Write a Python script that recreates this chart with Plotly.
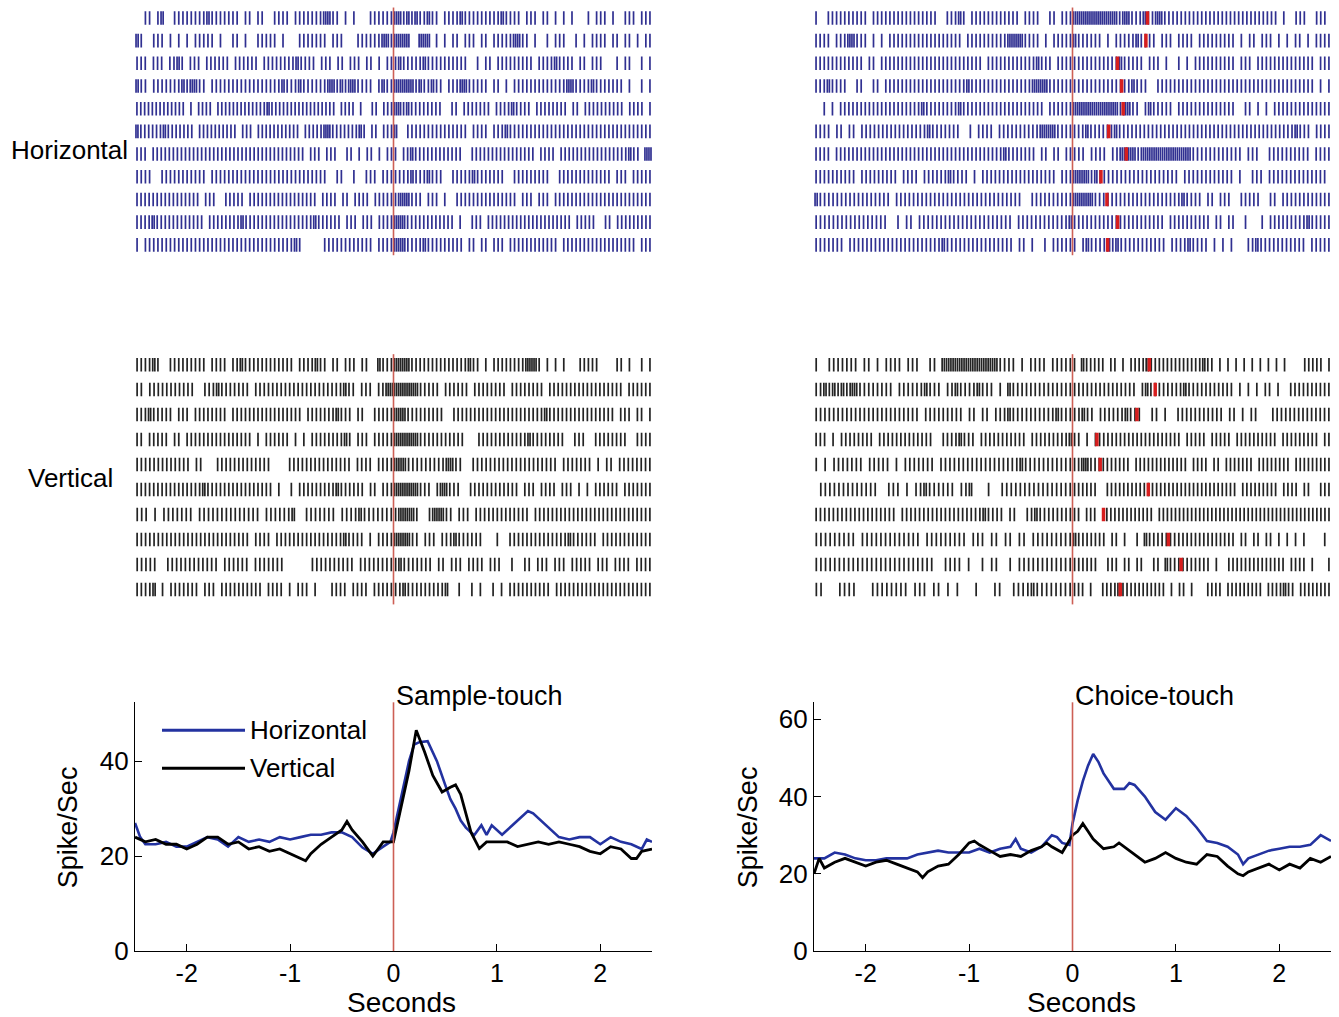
import plotly.graph_objects as go

W, H_REF = 1339, 1017      # reference picture size (layout is designed in these pixels)
H_FIG = 1031               # rendered figure height (fills the browser viewport)
FONT = "Liberation Sans, Arial, sans-serif"

# ---------------- data ----------------
# Raster rows: each char is a time bin (pre-event half ^ post-event half);
# '|' = one spike, ':' = two spikes, '.' = no spike
raster_H_sample = [
    "..||.|:..||||||||:|||||||.||.||..||||.|||||||::||.|.|...||||||^::|:|:||:||.||||:|||||||||:||||.|||.||.|.|.|...|.|||.|..|||.|||",
    ":|..|||.|.|.|.|||||.|..||.|..|||||.|...|||||||.|||...||||||::|^::::..:::.|.|.||.|||.||.|||||::||.|..|.|||..|.|.||||.||.||.|.||",
    "|||.|||.||:|.|||.||||||.||||||.||||||||:||||.|||.||.|||.||.|.||^|:|||||:||||||||||..|.||.|||||||||.||||:||||.||.|||...|.||..|.|",
    ":||.|||||||:|::||.|||||||||||||||||:|||:||||||::|:|::||||.|:||^:::::|:||:||.|||::|||||.||.|.|||||||||||||::||||:|||||||.|..|.|",
    "|||||||||||||.|.||||.|||||||||||||:|||||||||||||||||.||||.|..||.|||^::|:||||||||..||.|||||||.||||:||||.||||||||.||.||||||||||.||||.|",
    ":||||||:|||||||.||||||||||.|||.|||||||||||.|||||::|||||||:|.||.|||^:..|||||||||||||||.||||.|||:|||||||||||||||||||||||||||||||||||",
    "|||.||||||||||||||||||||||||||||||||||||||.|||.|||..||.|.||.|.||^|.||:||||||||||||..||||||||||||||||.||||.|||||||||||||||||:||.::",
    "||||..|||||||||||.||||||||||||||||||||||||||||..||..|..|||.|||^||||:|||:|||..|||||:|||||||..|||||||||..|||||||||||||.|||.|||||",
    "||||||||||||||||.|||..|||||.|||||||||||||||||.||||.||.||||.|||||^|:::|||.|||.|..|||||||||||||||.|||.|||.||||||||||||||||||||||||",
    "||||:||||||||||||.||||||||:|||||||||||||||||:||||||.|||.|||.||||^:::||||||||||||.|..|||.|||||||||||||||||||||.|||||..||.|||||||||",
    "|.||||||||||||||||||||||||||||||||||||:|.....||||||||||||.||||^:::||||:|||||||||.||.||.|||.||||||||||||.||||||||||||||||||.|||",
]
raster_H_choice = [
    "|..||||||||||.||||||||||||||||..|||:|.||||||||||||.||||..||.|||^:::::::::::|::|||:||::||||||||||||||||||||||||||||.|..|||..|||.",
    "||||.|||::|||.|.|.||||||||||||||||||.||||||||||::::||||.|.|||||^:||||||.|.|||||:||||.|||.||||.|||||||||.|.||.|||.|.|.||.|.||||",
    "||||||||||||.||.|||||||||||||||||||||||||.||||||||||||:|||.||||^|||||||||||:|||||.|||.|..|.|.||||||||||.|||.||||||||||||||.|||",
    "|||:||||..||..||.||||||||||||||||||||:|||||||||||||||::::||||||^||||||||||||||:|||..||||||||||||||||||||||||||||||||||||||.|.|",
    "..|.|.||||||||||||||||||||:||||||||:||||||||||||||||||||.||||||^:::::::::::|::||.|:|||||.||||||||||||||..||.|.|.||||||||||||||",
    "||||.||.||.||||||||||||||||:|||||||..|.||||.||||||||||::::||||^|||:||||||:|||||||||||||||||||||||||||||||||||||||||||:|||.||||",
    "||||.|||||||||||||||||||||||||||||||||||||||||:|||||||.||.||.||^|||.||||.||::::|::::::::::::||||||||||||.|||..||||||||||.||||",
    "||||||||||.|||||||||.||||.||||||:||||.|.||||||||||||||||||.|||^::::|:|||||||||||||||||||.||||||||||||.|..|||.||||||||||||||.",
    ":|||||||||||||||||.||||||||||||||||||||||||||||||..||||||||||^:::::|||||||||||||||||||||:||||.||.|||..|||||..||.||||||||||||",
    "|||||||||||||||||..|.||.||||||||||||||||||||||.||||||||||||:^||||||||||||||||||||||.||||||||||.||.||..|...|.|||||||||:|||||",
    "|||||||.||||||||||||||||||||||:||||||||||||||||.||.|..|.|||||^|.|:||||:|:|||||||||||.||||:||||.|.|.|...||:|||||||||||.|||||",
]
raster_V_sample = [
    "||||:|..|||||||||.||||.||:||||||||||||.||||:||.||.|||.||..:|||^::::||||||||||||||:||.|.||||||||:::|.|.|.|...|||||....||.|..|.|",
    "||.|||||||||||..|||:|||||||.|||||||||||||||||||||:||.|||.||::^::::::|||||.||||||.||||||||.||||||||.||||||||||||||||||.||||||",
    "|||:|||||.|||.||||||||.|||||||||||||||||.|||||||:|||.||..|||||^:::|||||||||..||||||||||||||||||||||:||||||||||||||||.|||.||.|",
    "||.|||||.||.||||||||||||||||.|.||||||.|.|.||||||||:|.|||.|||||^::::::|||||||||||...||||||||||||:||||||||..|||..||||||||..||||",
    "|||||||||||||.||...|||||||||||||....|||||||||||||||.||||.||||^:::|||||||||::||..||||||||||||||||||||.|||||||.|.||.||||||||",
    "||||||||||||||||:||||||||||||||||.|..|.|||||||||:||||||.||.|||^::::::|||.|::|||..||||||||||||.|||.||||.|||.|.|.||||||.|||||||",
    "|||.|.|||||||.||||||||||||||.||||||:..|||||||.||||:|||||||^|::::|..|:::||.|||.|||||||||||||.||||||||||||||||||||||||||||",
    "|||||||||||||||||||||||||||.||||.||||||||||||||||:||||.|.||||^::::||.|||.|||:||||||...|..||||||||||||||:||||||.||||||||||||",
    "|||||..||||||||||||.||||||.|||||||......||||||||||.||||||||^|:|||||||.||.|||.||||.|||..|..||.|||.|||.|||||.|||.||||.||||",
    "||||:.|.|||||||.|||.||||||||||.||||.|.|||.|...||||.||||.|||||^||:|||||||||:..|..|.|..|.|.||||||||||.|||||||||||||||||||||||",
]
raster_V_choice = [
    "|..|||||||.||.|.||||.|||..||.:::::::::::::||||.|.||||.|||||^|.:|||||.||.|.||||:|||||||||||||:||.|.|.|.|.|.|.|.|.|....|||||.|",
    "||:|:|:|::||||||||.||||||:|||.||:||||:|||.|.:||||||||||||||^|||||||||||||||.|:||||||||:|||||||||||.|.|.|.||.|..||||||||||",
    "||||||||||||||||||||||||.|||||||||.||.||.|||:||||||||||:|||^||:||.||||||:|||..||.|..|||||||||||.||.|.||...||||||||||||||",
    "|||.|.||||||||.|||||||||||||..||||:|||.|||||||||||.|||||||||:^||.|.|||||||||||||||||||||.|||||.|||||.||||||||||.|||||||||.||",
    "|.|.|||||||.|||||.|.|||||||.||||||||||||||||||:|||||||||||^||::||||||||||.|||||||||||||.||||.||.|||||||.||||||||.|||||||||",
    ".|||||||||||||..|||.|.||:||||||.||:...|..||||||||||||||||^||||||..||||||||||||||||||||||||||||||||.|||||||||.||||.||..|||",
    "|||||||||||||||||||.|||||||||||||||||||:||||.||..||:||||||||^||.|||..||||||||||||.|||||||||||||||||||||||||||||||||||||||||||",
    "|||||||||.|||||||||||||.|||||||||.|||.||.||.||.|||||||||^:|||||||.||.|..|.:|||||||||||||||||||||.||.||.||.|.|.|.|....|.",
    "||||||||||||||||||||||||||..||||.|..|.||..|.||||||||||||^||||||..|||.||.||..||.:||||||||||.|..||||||||||||||.||||.|...|",
    "||...||||...||||||||.|||.||.|.|...|...||..||||:||||||||^|||.|..||||:|||||||||||.|.||.|...||||.|||||||||.||||:||.||||||||",
]
# reward/feedback marks (seconds after choice-touch), one per trial row
red_H_choice = [0.725, 0.71, 0.435, 0.475, 0.49, 0.35, 0.52, 0.275, 0.333, 0.436, 0.34]
red_V_choice = [0.743, 0.80, 0.623, 0.236, 0.268, 0.733, 0.30, 0.927, 1.05, 0.462]

event_time = 0.0
t_start, t_end = -2.5, 2.5

# PSTH: sample-touch
tL_H = [-2.5,-2.45,-2.4,-2.3,-2.2,-2.1,-2.0,-1.9,-1.8,-1.7,-1.6,-1.5,-1.4,-1.3,-1.2,-1.1,-1.0,-0.9,-0.8,-0.7,-0.6,-0.5,-0.4,-0.3,-0.2,-0.1,-0.03,0.0,0.05,0.1,0.15,0.2,0.25,0.33,0.38,0.42,0.5,0.55,0.6,0.65,0.7,0.78,0.85,0.9,0.95,1.0,1.05,1.15,1.2,1.3,1.35,1.4,1.5,1.6,1.7,1.8,1.9,2.0,2.1,2.2,2.3,2.4,2.45,2.5]
vL_H = [27,24,22.5,22.5,23,22,22,23,24,23.5,22,24,23,23.5,23,24,23.5,24,24.5,24.5,25,25,24,21.8,20.5,22,23,25,30,35,40,43.5,44,44.2,42,40,35,32,30,27.5,26,24.4,26.5,24.5,26.5,25.5,24.5,26.5,27.5,29.5,29,28,26,24,23.5,24,24,22.5,24,23,22.5,21.5,23.5,23]
tL_V = [-2.5,-2.4,-2.3,-2.2,-2.1,-2.0,-1.9,-1.8,-1.7,-1.6,-1.5,-1.4,-1.3,-1.2,-1.1,-1.0,-0.9,-0.85,-0.8,-0.7,-0.6,-0.5,-0.45,-0.4,-0.3,-0.2,-0.15,-0.1,0.0,0.05,0.1,0.15,0.22,0.3,0.38,0.47,0.55,0.6,0.65,0.7,0.75,0.83,0.9,1.0,1.1,1.2,1.3,1.4,1.5,1.6,1.7,1.8,1.9,2.0,2.1,2.2,2.3,2.35,2.4,2.5]
vL_V = [24,23,23.5,22.5,22.5,21.5,22.5,24,24,22.5,23,21.5,22,21,21.5,20.5,19.5,19,20.5,22.5,24,25.5,27.3,25.5,23,20,21.5,23,23,28,33,38,46.5,42,37,33.5,34.5,35,33,29,25,21.6,23,23,23,22,22.5,23,22.5,23,22.5,22,21,20.5,22,21.5,19.5,19.5,21,21.5]
# PSTH: choice-touch
tR_H = [-2.5,-2.4,-2.3,-2.2,-2.1,-2.0,-1.9,-1.8,-1.7,-1.6,-1.5,-1.4,-1.3,-1.2,-1.1,-1.0,-0.9,-0.8,-0.7,-0.6,-0.55,-0.5,-0.4,-0.3,-0.2,-0.15,-0.1,-0.03,0.0,0.05,0.1,0.15,0.2,0.25,0.3,0.4,0.5,0.55,0.6,0.7,0.8,0.9,1.0,1.1,1.2,1.3,1.4,1.5,1.6,1.65,1.7,1.8,1.9,2.0,2.1,2.2,2.3,2.4,2.5]
vR_H = [24,24,25.5,25,24,23.5,23.5,24,24,24,25,25.5,26,25.5,25.5,25.5,26.5,25.5,26.5,27,29,26.5,25.5,27,30,29.5,28,27.5,33,39,44,48,51,49,46,42,42,43.5,43,40,36,34,37,35,32,28.5,28,27,25,22.5,24,25,26,26.5,27,27,27.5,30,28.5]
tR_V = [-2.5,-2.45,-2.4,-2.3,-2.2,-2.1,-2.0,-1.9,-1.8,-1.7,-1.6,-1.5,-1.45,-1.4,-1.3,-1.2,-1.1,-1.0,-0.95,-0.9,-0.8,-0.7,-0.6,-0.5,-0.4,-0.3,-0.25,-0.2,-0.1,0.0,0.05,0.1,0.15,0.2,0.3,0.4,0.45,0.5,0.6,0.7,0.8,0.9,1.0,1.1,1.2,1.3,1.4,1.5,1.6,1.65,1.7,1.8,1.9,2.0,2.1,2.2,2.3,2.4,2.5]
vR_V = [20,24,21.5,23,24,23,22,23,23.5,22.5,21.5,20.5,19,20.5,22,22.5,25,28,28.5,27.5,26,24.5,25,24.5,26,27,28,27,25.5,30,31,33,31,29,26.5,27,28,27,25,23,24,25.5,24,23,22.5,25,24.5,22,20,19.5,20.5,21.5,22.5,21,22.5,21.5,24,23,24.5]

series_names = ["Horizontal", "Vertical"]
row_labels = ["Horizontal", "Vertical"]
event_labels = ["Sample-touch", "Choice-touch"]

# ---------------- helpers ----------------
def PX(px):
    return px / W

def PY(py):
    return 1 - py / H_REF

def raster_xy(rows, half):
    xs, ys = [], []
    for r, row in enumerate(rows, start=1):
        pre, post = row.split("^")
        for part, t0, t1 in ((pre, t_start, event_time), (post, event_time, t_end)):
            n = len(part)
            bw = (t1 - t0) / n
            for i, c in enumerate(part):
                tc = t0 + bw * (i + 0.5)
                if c == "|":
                    ts = [tc]
                elif c == ":":
                    ts = [tc - bw * 0.25, tc + bw * 0.25]
                else:
                    ts = []
                for t in ts:
                    xs += [t, t, None]
                    ys += [r - half, r + half, None]
    return xs, ys

def mark_xy(times, half):
    xs, ys = [], []
    for r, t in enumerate(times, start=1):
        xs += [t, t, None]
        ys += [r - half, r + half, None]
    return xs, ys

BLUE_R = "rgb(48,48,145)"
BLACK_R = "rgb(35,35,35)"
RED = "rgb(215,30,30)"
EV = "rgb(205,95,85)"
BLUE_L = "rgb(35,50,160)"

fig = go.Figure()
panels = [
    (raster_H_sample, "x", "y", BLUE_R, None, 0.30),
    (raster_H_choice, "x2", "y2", BLUE_R, red_H_choice, 0.30),
    (raster_V_sample, "x3", "y3", BLACK_R, None, 0.27),
    (raster_V_choice, "x4", "y4", BLACK_R, red_V_choice, 0.27),
]
for rows, xa, ya, col, reds, half in panels:
    xs, ys = raster_xy(rows, half)
    fig.add_trace(go.Scatter(x=xs, y=ys, mode="lines", xaxis=xa, yaxis=ya,
                             line=dict(color=col, width=1.7), showlegend=False,
                             hoverinfo="skip"))
    if reds:
        rx, ry = mark_xy(reds, half)
        fig.add_trace(go.Scatter(x=rx, y=ry, mode="lines", xaxis=xa, yaxis=ya,
                                 line=dict(color=RED, width=3.5), showlegend=False,
                                 hoverinfo="skip"))

for t, v, xa, ya, col, w in [
    (tL_H, vL_H, "x5", "y5", BLUE_L, 2.6),
    (tL_V, vL_V, "x5", "y5", "black", 2.8),
    (tR_H, vR_H, "x6", "y6", BLUE_L, 2.6),
    (tR_V, vR_V, "x6", "y6", "black", 2.8),
]:
    fig.add_trace(go.Scatter(x=t, y=v, mode="lines", xaxis=xa, yaxis=ya,
                             line=dict(color=col, width=w), showlegend=False,
                             hoverinfo="skip"))

xL = [PX(135), PX(652)]
xR = [PX(814), PX(1331)]
hidden = dict(visible=False, showgrid=False, zeroline=False)
tickfont = dict(family=FONT, size=25, color="black")

def psth_x(anchor, dom):
    return dict(domain=dom, range=[t_start, t_end], anchor=anchor, showline=True,
                linecolor="black", linewidth=1.3, ticks="inside", ticklen=7,
                tickcolor="black", tickvals=[-2, -1, 0, 1, 2],
                ticktext=["-2", "-1", "0", "1", "2"], tickfont=tickfont,
                showgrid=False, zeroline=False, mirror=False)

def psth_y(anchor, rng, vals):
    return dict(domain=[PY(952), PY(703)], range=rng, anchor=anchor, showline=True,
                linecolor="black", linewidth=1.3, ticks="inside", ticklen=7,
                tickcolor="black", tickvals=vals,
                tickfont=dict(family=FONT, size=26, color="black"),
                showgrid=False, zeroline=False, mirror=False)

fig.update_layout(
    width=W, height=H_FIG, margin=dict(l=0, r=0, t=0, b=0),
    paper_bgcolor="white", plot_bgcolor="white", showlegend=False,
    font=dict(family=FONT, color="black"),
    xaxis=dict(domain=xL, range=[t_start, t_end], anchor="y", **hidden),
    yaxis=dict(domain=[PY(258), PY(5)], range=[11.57, 0.43], anchor="x", **hidden),
    xaxis2=dict(domain=xR, range=[t_start, t_end], anchor="y2", **hidden),
    yaxis2=dict(domain=[PY(258), PY(5)], range=[11.57, 0.43], anchor="x2", **hidden),
    xaxis3=dict(domain=xL, range=[t_start, t_end], anchor="y3", **hidden),
    yaxis3=dict(domain=[PY(605), PY(352)], range=[10.6, 0.48], anchor="x3", **hidden),
    xaxis4=dict(domain=xR, range=[t_start, t_end], anchor="y4", **hidden),
    yaxis4=dict(domain=[PY(605), PY(352)], range=[10.6, 0.48], anchor="x4", **hidden),
    xaxis5=psth_x("y5", xL),
    yaxis5=psth_y("x5", [0, 52.4], [0, 20, 40]),
    xaxis6=psth_x("y6", xR),
    yaxis6=psth_y("x6", [0, 64.4], [0, 20, 40, 60]),
)

# event lines at t = 0
shapes = []
for xa, ya, y0, y1 in [("x", "y", 0.01, 0.99), ("x2", "y2", 0.01, 0.99),
                       ("x3", "y3", 0.0, 0.99), ("x4", "y4", 0.0, 0.99),
                       ("x5", "y5", 0.0, 1.0), ("x6", "y6", 0.0, 1.0)]:
    shapes.append(dict(type="line", xref=xa, yref=ya + " domain", x0=event_time,
                       x1=event_time, y0=y0, y1=y1,
                       line=dict(color=EV, width=1.6), layer="above"))
# legend keys
shapes.append(dict(type="line", xref="paper", yref="paper", x0=PX(162), x1=PX(245),
                   y0=PY(731), y1=PY(731), line=dict(color=BLUE_L, width=3)))
shapes.append(dict(type="line", xref="paper", yref="paper", x0=PX(162), x1=PX(245),
                   y0=PY(769), y1=PY(769), line=dict(color="black", width=3)))
fig.update_layout(shapes=shapes)

ann = []
def txt(text, x, y, size, xanchor="center", angle=0, xref="paper"):
    ann.append(dict(text=text, x=x, y=y, xref=xref, yref="paper", xanchor=xanchor,
                    yanchor="middle", showarrow=False, textangle=angle,
                    font=dict(family=FONT, size=size, color="black")))

txt(row_labels[0], PX(69), PY(150), 26)
txt(row_labels[1], PX(70), PY(478), 26)
txt(event_labels[0], event_time, PY(697), 27, xanchor="left", xref="x5")
txt(event_labels[1], event_time, PY(697), 27, xanchor="left", xref="x6")
txt("Spike/Sec", PX(68), PY(828), 27, angle=-90)
txt("Spike/Sec", PX(748), PY(828), 27, angle=-90)
txt("Seconds", PX(401), PY(1003.5), 28)
txt("Seconds", PX(1081), PY(1003.5), 28)
txt(series_names[0], PX(248), PY(731), 26, xanchor="left")
txt(series_names[1], PX(248), PY(769), 26, xanchor="left")
fig.update_layout(annotations=ann)

page_fix = (
    "document.documentElement.style.margin='0';"
    "document.documentElement.style.overflow='hidden';"
    "document.body.style.margin='0';"
    "document.body.style.overflow='hidden';"
    "var gd=document.getElementById('{plot_id}');"
    "gd.style.position='fixed';gd.style.left='0px';gd.style.top='0px';"
)
fig.write_html("out.html", config={"displayModeBar": False}, post_script=page_fix)
